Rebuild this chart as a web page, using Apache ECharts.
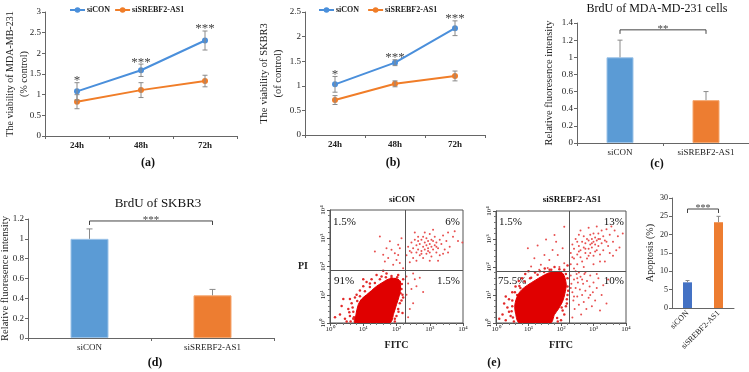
<!DOCTYPE html>
<html>
<head>
<meta charset="utf-8">
<script src="https://cdn.jsdelivr.net/npm/echarts@6/dist/echarts.min.js"></script>
<style>
html, body { margin: 0; padding: 0; background: #fff; }
#main { width: 749px; height: 372px; }
</style>
</head>
<body>
<div id="main"></div>
<script>
// 细胞活力 / BrdU / 流式凋亡 组图

var timePoints = ['24h', '48h', '72h'];
var groups = ['siCON', 'siSREBF2-AS1'];

// (a) MDA-MB-231 活力
var viabMdaCon = [1.08, 1.59, 2.31];
var viabMdaConErr = [0.21, 0.15, 0.23];
var viabMdaKd = [0.83, 1.11, 1.33];
var viabMdaKdErr = [0.17, 0.18, 0.14];
var starsMda = ['*', '***', '***'];

// (b) SKBR3 活力
var viabSkCon = [1.03, 1.47, 2.17];
var viabSkConErr = [0.16, 0.06, 0.15];
var viabSkKd = [0.71, 1.04, 1.20];
var viabSkKdErr = [0.09, 0.06, 0.10];
var starsSk = ['*', '***', '***'];

// (c) BrdU MDA
var brduMda = [1.0, 0.5];
var brduMdaErr = [0.2, 0.1];
var sigMda = '**';
var bracketMda = 1.32;

// (d) BrdU SKBR3
var brduSk = [1.0, 0.43];
var brduSkErr = [0.1, 0.06];
var sigSk = '***';
var bracketSk = 1.18;

// (e) 凋亡
var apoptosis = [7.0, 23.4];
var apoptosisErr = [0.5, 1.6];
var sigApop = '***';
var bracketApop = 27;

// 流式 (log10 坐标)
var flowTicks = ['10\u2070', '10\u00b9', '10\u00b2', '10\u00b3', '10\u2074'];
var gateCon = [2.25, 1.87];
var gateKd = [2.26, 1.84];
var quadCon = ['1.5%', '6%', '91%', '1.5%'];
var quadKd = ['1.5%', '13%', '75.5%', '10%'];

// 高密度区轮廓
var coreConOutline = [
	[0.75,0],[0.78,0.3],[0.85,0.65],[0.95,0.85],[1.1,1.0],[1.25,1.15],[1.4,1.3],[1.6,1.45],
	[1.75,1.55],[1.95,1.58],[2.1,1.5],[2.12,1.2],[2.08,0.95],[2.0,0.65],[1.92,0.35],[1.8,0]
];
var haloCon = [
	[0.3,0.3],[0.45,0.15],[0.55,0.5],[0.6,0.25],[0.65,0.7],[0.7,0.4],[0.5,0.05],[0.75,0.9],
	[0.8,1.0],[0.9,1.15],[1.0,1.3],[1.1,1.45],[1.25,1.55],[1.4,1.7],[1.55,1.65],[1.7,1.75],
	[1.85,1.6],[2.05,1.7],[2.1,1.45],[2.15,1.2],[2.2,0.9],[2.1,0.7],[2.05,0.5],[2.0,0.25],
	[1.95,0.05],[2.18,0.35],[0.35,0.6],[0.15,0.2],[0.4,0.85],[1.0,1.55],[1.6,1.85],[2.2,1.55],
	[0.85,0.05],[0.7,0.15],[2.12,1.05],[1.95,1.55],[0.6,0.85],[1.2,1.4],[0.68,0.55],[0.72,0.2],
	[0.82,0.78],[0.9,0.95],[1.05,1.12],[1.2,1.27],[1.35,1.42],[1.5,1.55],[1.68,1.62],[1.85,1.66],
	[2.02,1.62],[2.16,1.38],[2.15,0.8],[2.06,0.4],[1.95,0.15],[2.18,1.0],[0.62,0.05],[0.58,0.38]
];
var q4Con = [
	[2.3,1.0],[2.35,1.4],[2.45,1.2],[2.5,0.7],[2.55,1.55],[2.4,0.5],[2.6,1.3],[2.7,1.6],
	[2.35,0.2],[2.5,1.75],[2.3,1.65],[2.8,1.1]
];
var q1Con = [
	[1.5,3.06],[1.35,2.53],[1.6,2.42],[1.75,2.3],[1.85,2.59],[1.9,2.06],[2.0,2.23],[2.05,2.77],
	[2.1,2.65],[2.15,3.0],[1.8,2.89],[1.65,2.18],[1.95,2.47],[2.1,2.12],[2.2,1.94],[1.7,2.65],[2.05,2.41]
];
var q2Con = [
	[2.3,2.4],[2.35,2.7],[2.4,2.55],[2.45,2.85],[2.5,2.3],[2.5,2.65],[2.55,2.95],[2.6,2.5],
	[2.6,2.75],[2.65,2.6],[2.65,3.05],[2.7,2.4],[2.7,2.8],[2.75,2.55],[2.75,2.95],[2.8,2.7],
	[2.8,2.3],[2.85,2.85],[2.85,2.6],[2.9,2.45],[2.9,2.75],[2.9,3.0],[2.95,2.65],[2.95,2.9],
	[3.0,2.5],[3.0,2.8],[3.0,3.15],[3.05,2.7],[3.05,2.35],[3.1,2.9],[3.1,2.6],[3.15,2.75],
	[3.15,3.05],[3.2,2.5],[3.2,2.85],[3.25,2.65],[3.3,2.95],[3.3,2.4],[3.35,2.8],[3.4,3.1],
	[3.45,2.6],[3.5,2.9],[3.55,3.2],[3.6,2.7],[3.7,3.05],[3.75,3.25],[3.85,2.9],[2.4,2.15],
	[2.6,2.2],[3.0,2.2],[3.25,2.2],[2.55,3.2],[2.85,3.2],[3.1,3.3],[2.75,2.45],[2.95,2.55],
	[3.05,2.95],[2.8,3.05],[3.2,2.7],[3.4,2.45],[2.65,2.9],[2.45,2.5],[3.55,2.5],[3.98,2.85]
];

var coreKdOutline = [
	[0.72,0],[0.6,0.35],[0.58,0.65],[0.67,1.0],[0.8,1.2],[0.98,1.36],[1.2,1.52],[1.4,1.66],
	[1.6,1.78],[1.8,1.84],[2.05,1.78],[2.16,1.4],[2.12,1.05],[2.05,0.77],[1.92,0.5],[1.8,0.3],[1.68,0]
];
var haloKd = [
	[0.2,0.3],[0.3,0.1],[0.35,0.55],[0.4,0.85],[0.45,0.25],[0.5,1.1],[0.55,0.05],[0.6,1.3],
	[0.7,1.5],[0.8,1.6],[0.9,1.75],[1.05,1.6],[1.2,1.8],[1.35,1.85],[1.5,1.95],[1.65,1.9],
	[1.8,2.0],[1.95,1.8],[2.05,1.65],[2.15,1.75],[2.2,1.3],[2.2,1.0],[2.15,0.6],[2.1,0.3],
	[2.0,0.1],[1.9,0.05],[2.05,0.45],[0.25,0.7],[0.1,0.15],[0.4,0.4],[0.65,1.0],[0.75,1.25],
	[2.1,1.9],[2.2,2.05],[0.5,0.6],[0.3,0.95],[1.0,1.85],[1.7,1.75],[2.18,0.85],[2.08,1.4],
	[0.52,0.2],[0.48,0.42],[0.5,0.8],[0.58,1.1],[0.72,1.32],[0.88,1.48],[1.08,1.62],[1.28,1.72],
	[1.48,1.82],[1.7,1.9],[1.95,1.92],[2.2,1.6],[2.22,1.15],[2.18,0.7],[2.02,0.55],[1.88,0.18]
];
var q4Kd = [
	[2.3,1.7],[2.32,1.4],[2.35,1.1],[2.38,0.8],[2.4,1.55],[2.42,0.5],[2.45,1.25],[2.48,1.75],
	[2.5,0.95],[2.52,1.45],[2.55,0.65],[2.58,1.2],[2.6,1.65],[2.62,0.3],[2.65,1.0],[2.68,1.4],
	[2.7,0.75],[2.72,1.75],[2.75,1.15],[2.78,0.5],[2.8,1.5],[2.85,0.9],[2.88,1.3],[2.9,1.7],
	[2.95,0.6],[2.98,1.1],[3.0,1.45],[3.05,0.8],[3.1,1.25],[3.15,1.6],[3.2,0.45],[3.25,1.0],
	[3.3,1.35],[3.4,0.7],[3.45,1.55],[2.35,0.2],[2.45,1.85],[2.55,1.8],[2.65,1.55],[2.75,1.8],
	[2.9,1.0],[3.1,1.75],[2.3,1.25],[2.5,1.6],[2.4,0.95]
];
var q1Kd = [
	[1.28,2.77],[1.54,2.98],[1.8,3.14],[2.1,3.44],[1.18,2.31],[1.38,2.08],[1.64,2.25],[1.9,2.43],
	[2.05,2.67],[1.74,2.61],[1.49,2.43],[1.08,2.02],[1.95,2.0],[1.59,1.96],[1.33,1.9],[0.98,2.67],
	[2.1,2.13],[1.85,2.9]
];
var q2Kd = [
	[2.3,2.1],[2.3,2.5],[2.35,2.8],[2.4,2.3],[2.4,2.65],[2.45,3.0],[2.5,2.45],[2.5,2.1],
	[2.55,2.75],[2.55,3.15],[2.6,2.35],[2.6,2.6],[2.65,2.9],[2.65,2.2],[2.7,2.7],[2.7,3.1],
	[2.75,2.5],[2.75,2.85],[2.8,3.0],[2.8,2.3],[2.85,2.65],[2.85,2.95],[2.9,2.8],[2.9,3.15],
	[2.9,2.5],[2.95,3.0],[2.95,2.7],[3.0,2.9],[3.0,3.2],[3.0,2.4],[3.05,2.8],[3.05,3.05],
	[3.1,2.6],[3.1,2.95],[3.15,3.2],[3.15,2.75],[3.2,3.0],[3.2,2.45],[3.25,2.85],[3.25,3.3],
	[3.3,3.1],[3.3,2.6],[3.35,2.95],[3.4,3.35],[3.45,2.75],[3.5,3.15],[3.55,3.45],[3.6,2.9],
	[3.65,3.3],[3.75,3.1],[3.8,2.7],[3.9,3.2],[2.4,1.95],[2.7,2.0],[3.0,2.1],[3.35,2.2],
	[3.6,2.4],[2.6,3.3],[2.85,3.4],[3.1,3.45],[2.35,2.35],[2.55,2.55],[2.75,2.65],[2.95,2.85],
	[3.05,2.55],[3.15,3.0],[2.85,2.4],[3.4,2.9],[3.2,2.2],[3.7,2.6],[2.5,2.9],[3.5,2.5]
];

var FONT = '"Liberation Serif", "Times New Roman", serif';
var BLUE = '#4A8FDB';
var ORANGE = '#F07D28';
var BAR_BLUE = '#5B9BD5';
var BAR_ORANGE = '#ED7D31';
var APOP_BLUE = '#4472C4';
var RED = '#E00000';
var AXIS = '#666';

/**
 * 误差线
 */
function errBar(cap, upOnly) {
	return function (params, api) {
		var x = api.value(0), v = api.value(1), e = api.value(2);
		var top = api.coord([x, v + e]);
		var bot = api.coord([x, upOnly ? v : v - e]);
		var st = { stroke: '#8a8a8a', lineWidth: 1 };
		var kids = [
			{ type: 'line', shape: { x1: top[0], y1: top[1], x2: bot[0], y2: bot[1] }, style: st },
			{ type: 'line', shape: { x1: top[0] - cap, y1: top[1], x2: top[0] + cap, y2: top[1] }, style: st }
		];
		if (!upOnly) {
			kids.push({ type: 'line', shape: { x1: bot[0] - cap, y1: bot[1], x2: bot[0] + cap, y2: bot[1] }, style: st });
		}
		return { type: 'group', children: kids };
	};
}

/**
 * 星号
 */
function starText(labels, size) {
	return function (params, api) {
		var p = api.coord([api.value(0), api.value(1)]);
		return {
			type: 'text',
			style: { text: labels[params.dataIndex], x: p[0], y: p[1] - 2, align: 'center', verticalAlign: 'middle',
				font: size + 'px ' + FONT, fill: '#444' }
		};
	};
}

/**
 * 显著性括号
 */
function bracket(label, drop, size) {
	return function (params, api) {
		var a = api.coord([api.value(0), api.value(2)]);
		var b = api.coord([api.value(1), api.value(2)]);
		var st = { stroke: '#444', lineWidth: 1, fill: null };
		return {
			type: 'group',
			children: [
				{ type: 'polyline', shape: { points: [[a[0], a[1] + drop], [a[0], a[1]], [b[0], b[1]], [b[0], b[1] + drop]] }, style: st },
				{ type: 'text', style: { text: label, x: (a[0] + b[0]) / 2, y: a[1] - 1, align: 'center', verticalAlign: 'middle',
					font: size + 'px ' + FONT, fill: '#444' } }
			]
		};
	};
}

/**
 * 流式高密度区（按轮廓填充）
 */
function blob(grid, outline) {
	return {
		type: 'custom', xAxisIndex: grid, yAxisIndex: grid, clip: true, silent: true, z: 3,
		data: [0],
		renderItem: function (params, api) {
			var pts = outline.map(function (p) { return api.coord(p); });
			return { type: 'polygon', shape: { points: pts, smooth: 0.3 }, style: { fill: RED, stroke: RED, lineWidth: 1 } };
		}
	};
}

function withErr(vals, errs) {
	return vals.map(function (v, i) { return [i, v, errs[i]]; });
}
function starPos(vals, errs) {
	return vals.map(function (v, i) { return [i, v + errs[i]]; });
}
function colored(vals, colors) {
	return vals.map(function (v, i) { return { value: v, itemStyle: { color: colors[i], borderColor: i === 0 ? '#9CC3E8' : '#F5A66E', borderWidth: 1 } }; });
}

function catAxis(grid, data, size, weight) {
	return {
		type: 'category', gridIndex: grid, data: data,
		axisLine: { lineStyle: { color: AXIS } },
		axisTick: { show: true, length: 3, lineStyle: { color: AXIS } },
		axisLabel: { fontFamily: FONT, fontSize: size, fontWeight: weight, color: '#222', margin: 5, interval: 0 },
		splitLine: { show: false }
	};
}
function valAxis(grid, min, max, interval, size, name, gap, nameSize) {
	return {
		type: 'value', gridIndex: grid, min: min, max: max, interval: interval,
		name: name, nameLocation: 'middle', nameGap: gap, nameRotate: 90, nameMoveOverlap: false,
		nameTextStyle: { fontFamily: FONT, fontSize: nameSize, color: '#222', lineHeight: 14 },
		axisLine: { show: true, lineStyle: { color: AXIS } },
		axisTick: { show: true, length: 3, lineStyle: { color: AXIS } },
		axisLabel: { fontFamily: FONT, fontSize: size, color: '#222', margin: 4 },
		splitLine: { show: false }
	};
}
function flowAxis(grid, dim, name) {
	var ax = {
		type: 'value', gridIndex: grid, min: 0, max: 4, interval: 1,
		axisLine: { show: true, onZero: false, lineStyle: { color: '#555' } },
		axisTick: { show: true, length: 3, lineStyle: { color: '#555' } },
		minorTick: { show: true, length: 2, splitNumber: 5, lineStyle: { color: '#777' } },
		axisLabel: { fontFamily: FONT, fontSize: 7, color: '#222', margin: 3,
			formatter: function (v) { return flowTicks[Math.round(v)]; } },
		splitLine: { show: false }
	};
	if (name) {
		ax.name = name;
		ax.nameLocation = 'middle';
		ax.nameMoveOverlap = false;
		ax.nameTextStyle = { fontFamily: FONT, fontSize: 10, fontWeight: 'bold', color: '#222' };
		ax.nameGap = dim === 'x' ? 17 : 22;
		ax.nameRotate = 0;
	}
	if (dim === 'y') ax.axisLabel.rotate = 90;
	return ax;
}

function dots(grid, data, size, color) {
	return { type: 'scatter', xAxisIndex: grid, yAxisIndex: grid, data: data, symbolSize: size,
		itemStyle: { color: color, opacity: 1, borderWidth: 0 }, silent: true, z: 2 };
}
function gateLines(gate) {
	return {
		symbol: 'none', silent: true, label: { show: false },
		lineStyle: { color: '#555', type: 'solid', width: 1 },
		data: [{ xAxis: gate[0] }, { yAxis: gate[1] }]
	};
}

function txt(x, y, s, size, weight, align) {
	return { type: 'text', x: x, y: y, silent: true,
		style: { text: s, fill: '#111', font: (weight || 'normal') + ' ' + size + 'px ' + FONT,
			align: align || 'center', verticalAlign: 'middle' } };
}

function grid(left, top, width, height, boxed) {
	var g = { left: left, top: top, width: width, height: height, containLabel: false, outerBoundsMode: 'none' };
	if (boxed) {
		g.show = true;
		g.borderColor = '#555';
		g.borderWidth = 1;
	}
	return g;
}

var legendStyle = { fontFamily: FONT, fontSize: 8, fontWeight: 'bold', color: '#222', padding: [0, 0, 0, -3] };

var apopX = catAxis(6, groups, 8, 'normal');
apopX.axisTick = { show: false };
apopX.axisLabel.rotate = 45;
apopX.axisLabel.margin = 4;

var option = {
	animation: false,
	backgroundColor: '#fff',
	grid: [
		grid(45, 12, 192, 124),
		grid(305, 12, 180, 123),
		grid(577, 23, 172, 120),
		grid(28, 219, 246, 119),
		grid(330, 210, 133, 113, true),
		grid(496, 211, 130, 112, true),
		grid(672, 198, 62, 110)
	],
	legend: [
		{ data: groups, left: 67, top: 4, itemWidth: 15, itemHeight: 7, itemGap: 4, padding: 2, textStyle: legendStyle },
		{ data: groups, left: 316, top: 4, itemWidth: 15, itemHeight: 7, itemGap: 8, padding: 2, textStyle: legendStyle }
	],
	xAxis: [
		catAxis(0, timePoints, 9, 'bold'),
		catAxis(1, timePoints, 9, 'bold'),
		catAxis(2, groups, 9, 'normal'),
		catAxis(3, groups, 9, 'normal'),
		flowAxis(4, 'x', 'FITC'),
		flowAxis(5, 'x', 'FITC'),
		apopX
	],
	yAxis: [
		valAxis(0, 0, 3, 0.5, 9, 'The viability of MDA-MB-231\n(% control)', 14, 10),
		valAxis(1, 0, 2.5, 0.5, 9, 'The viability of SKBR3\n(of control)', 20, 10.5),
		valAxis(2, 0, 1.4, 0.2, 9, 'Relative fluoresence intensity', 21, 10.5),
		valAxis(3, 0, 1.2, 0.2, 9, 'Relative fluoresence intensity', 16, 10.5),
		flowAxis(4, 'y', 'PI'),
		flowAxis(5, 'y'),
		valAxis(6, 0, 30, 5, 8, 'Apoptosis (%)', 15, 10)
	],
	series: [
		// (a)
		{ name: 'siCON', type: 'line', xAxisIndex: 0, yAxisIndex: 0, data: viabMdaCon, symbol: 'circle', symbolSize: 6,
			itemStyle: { color: BLUE }, lineStyle: { color: BLUE, width: 2 }, z: 3 },
		{ name: 'siSREBF2-AS1', type: 'line', xAxisIndex: 0, yAxisIndex: 0, data: viabMdaKd, symbol: 'circle', symbolSize: 6,
			itemStyle: { color: ORANGE }, lineStyle: { color: ORANGE, width: 2 }, z: 3 },
		{ type: 'custom', xAxisIndex: 0, yAxisIndex: 0, renderItem: errBar(2.5, false), data: withErr(viabMdaCon, viabMdaConErr), encode: { x: 0, y: 1 }, z: 4, silent: true },
		{ type: 'custom', xAxisIndex: 0, yAxisIndex: 0, renderItem: errBar(2.5, false), data: withErr(viabMdaKd, viabMdaKdErr), encode: { x: 0, y: 1 }, z: 4, silent: true },
		{ type: 'custom', xAxisIndex: 0, yAxisIndex: 0, renderItem: starText(starsMda, 13), data: starPos(viabMdaCon, viabMdaConErr), encode: { x: 0, y: 1 }, silent: true },

		// (b)
		{ name: 'siCON', type: 'line', xAxisIndex: 1, yAxisIndex: 1, data: viabSkCon, symbol: 'circle', symbolSize: 6,
			itemStyle: { color: BLUE }, lineStyle: { color: BLUE, width: 2 }, z: 3 },
		{ name: 'siSREBF2-AS1', type: 'line', xAxisIndex: 1, yAxisIndex: 1, data: viabSkKd, symbol: 'circle', symbolSize: 6,
			itemStyle: { color: ORANGE }, lineStyle: { color: ORANGE, width: 2 }, z: 3 },
		{ type: 'custom', xAxisIndex: 1, yAxisIndex: 1, renderItem: errBar(2.5, false), data: withErr(viabSkCon, viabSkConErr), encode: { x: 0, y: 1 }, z: 4, silent: true },
		{ type: 'custom', xAxisIndex: 1, yAxisIndex: 1, renderItem: errBar(2.5, false), data: withErr(viabSkKd, viabSkKdErr), encode: { x: 0, y: 1 }, z: 4, silent: true },
		{ type: 'custom', xAxisIndex: 1, yAxisIndex: 1, renderItem: starText(starsSk, 13), data: starPos(viabSkCon, viabSkConErr), encode: { x: 0, y: 1 }, silent: true },

		// (c)
		{ type: 'bar', xAxisIndex: 2, yAxisIndex: 2, barWidth: 27, data: colored(brduMda, [BAR_BLUE, BAR_ORANGE]), silent: true },
		{ type: 'custom', xAxisIndex: 2, yAxisIndex: 2, renderItem: errBar(2.5, true), data: withErr(brduMda, brduMdaErr), encode: { x: 0, y: 1 }, z: 4, silent: true },
		{ type: 'custom', xAxisIndex: 2, yAxisIndex: 2, renderItem: bracket(sigMda, 4, 11), data: [[0, 1, bracketMda]], encode: { x: [0, 1], y: 2 }, silent: true },

		// (d)
		{ type: 'bar', xAxisIndex: 3, yAxisIndex: 3, barWidth: 38, data: colored(brduSk, [BAR_BLUE, BAR_ORANGE]), silent: true },
		{ type: 'custom', xAxisIndex: 3, yAxisIndex: 3, renderItem: errBar(3, true), data: withErr(brduSk, brduSkErr), encode: { x: 0, y: 1 }, z: 4, silent: true },
		{ type: 'custom', xAxisIndex: 3, yAxisIndex: 3, renderItem: bracket(sigSk, 4, 11), data: [[0, 1, bracketSk]], encode: { x: [0, 1], y: 2 }, silent: true },

		// (e) 流式 siCON
		blob(4, coreConOutline),
		Object.assign(dots(4, haloCon, 2.5, '#E22A2A'), { markLine: gateLines(gateCon) }),
		dots(4, q1Con, 2, '#E85050'),
		dots(4, q2Con, 2, '#E85050'),
		dots(4, q4Con, 2, '#E85050'),

		// (e) 流式 siSREBF2-AS1
		blob(5, coreKdOutline),
		Object.assign(dots(5, haloKd, 2.5, '#E22A2A'), { markLine: gateLines(gateKd) }),
		dots(5, q1Kd, 2, '#E85050'),
		dots(5, q2Kd, 2, '#E85050'),
		dots(5, q4Kd, 2, '#E85050'),

		// (e) 凋亡柱图
		{ type: 'bar', xAxisIndex: 6, yAxisIndex: 6, barWidth: 9,
			data: apoptosis.map(function (v, i) { return { value: v, itemStyle: { color: [APOP_BLUE, BAR_ORANGE][i] } }; }), silent: true },
		{ type: 'custom', xAxisIndex: 6, yAxisIndex: 6, renderItem: errBar(2, true), data: withErr(apoptosis, apoptosisErr), encode: { x: 0, y: 1 }, z: 4, silent: true },
		{ type: 'custom', xAxisIndex: 6, yAxisIndex: 6, renderItem: bracket(sigApop, 4, 10), data: [[0, 1, bracketApop]], encode: { x: [0, 1], y: 2 }, silent: true }
	],
	graphic: [
		txt(148, 163, '(a)', 12, 'bold'),
		txt(393, 163, '(b)', 12, 'bold'),
		txt(657, 164, '(c)', 12, 'bold'),
		txt(155, 363, '(d)', 12, 'bold'),
		txt(494, 363, '(e)', 12, 'bold'),
		txt(657, 9, 'BrdU of MDA-MD-231 cells', 12),
		txt(158, 204, 'BrdU of SKBR3', 13),
		txt(402, 200, 'siCON', 9, 'bold'),
		txt(572, 200, 'siSREBF2-AS1', 9, 'bold'),
		txt(333, 222, quadCon[0], 11, 'normal', 'left'),
		txt(460, 222, quadCon[1], 11, 'normal', 'right'),
		txt(334, 281, quadCon[2], 11, 'normal', 'left'),
		txt(460, 281, quadCon[3], 11, 'normal', 'right'),
		txt(499, 222, quadKd[0], 11, 'normal', 'left'),
		txt(624, 222, quadKd[1], 11, 'normal', 'right'),
		txt(498, 281, quadKd[2], 11, 'normal', 'left'),
		txt(624, 281, quadKd[3], 11, 'normal', 'right')
	]
};

var chart = echarts.init(document.getElementById('main'));
chart.setOption(option);
</script>
</body>
</html>
